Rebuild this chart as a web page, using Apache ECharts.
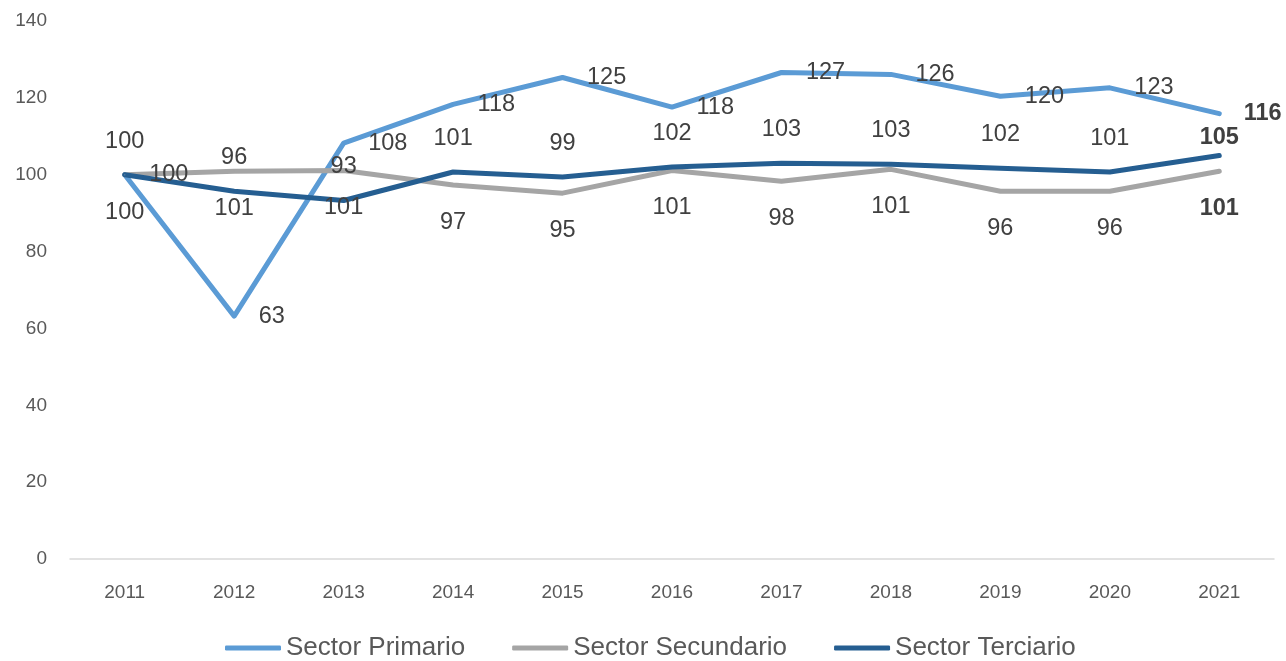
<!DOCTYPE html>
<html>
<head>
<meta charset="utf-8">
<script src="https://cdn.jsdelivr.net/npm/echarts@6/dist/echarts.min.js"></script>
<style>
  html, body { margin: 0; padding: 0; background: #fff; }
  #chart { width: 1286px; height: 661px; }
</style>
</head>
<body>
<div id="chart"></div>
<script>
// años del eje x
const years = ['2011', '2012', '2013', '2014', '2015', '2016', '2017', '2018', '2019', '2020', '2021'];
// índices por sector (2011 = 100)
const primario = [100, 63.2, 108.2, 118.3, 125.3, 117.6, 126.6, 126.1, 120.4, 122.6, 115.9];
const secundario = [100, 100.9, 101.1, 97.3, 95.2, 101.1, 98.3, 101.4, 95.7, 95.7, 100.9];
const terciario = [100, 95.7, 93.3, 100.7, 99.4, 102.0, 103.0, 102.7, 101.7, 100.7, 105.0];
const yTicks = [0, 20, 40, 60, 80, 100, 120, 140];

const FONT = 'Liberation Sans, Arial, sans-serif';
const labelColor = '#404040';

// el último punto de cada serie lleva etiqueta en negrita
function withBoldLast(values, lastLabel) {
    return values.map((v, i) => {
        if (i === values.length - 1) {
            return { value: v, label: Object.assign({ fontWeight: 'bold' }, lastLabel || {}) };
        }
        return v;
    });
}

function makeSeries(name, color, values, label, lastLabel) {
    return {
        name: name,
        type: 'line',
        data: withBoldLast(values, lastLabel),
        symbol: 'circle',
        symbolSize: 1,
        itemStyle: { color: color },
        lineStyle: { color: color, width: 5, cap: 'round', join: 'round' },
        label: Object.assign({
            show: true,
            color: labelColor,
            fontSize: 23.5,
            fontFamily: FONT,
            formatter: p => Math.round(p.value)
        }, label),
        emphasis: { disabled: true }
    };
}

let myChart = echarts.init(document.getElementById('chart'));
let option = {
    animation: false,
    grid: { left: 70, right: 12, top: 21, bottom: 102 },
    legend: {
        left: 225,
        bottom: 0,
        padding: 0,
        itemWidth: 56,
        itemHeight: 5,
        itemGap: 47,
        icon: 'roundRect',
        textStyle: { fontSize: 26, color: '#595959', fontFamily: FONT },
        data: ['Sector Primario', 'Sector Secundario', 'Sector Terciario']
    },
    xAxis: {
        type: 'category',
        data: years,
        boundaryGap: true,
        axisLine: { lineStyle: { color: '#D9D9D9', width: 1.5 } },
        axisTick: { show: false },
        axisLabel: { color: '#595959', fontSize: 19, fontFamily: FONT, margin: 24 }
    },
    yAxis: {
        type: 'value',
        min: yTicks[0],
        max: yTicks[yTicks.length - 1],
        interval: 20,
        axisLine: { show: false },
        axisTick: { show: false },
        splitLine: { show: false },
        axisLabel: { color: '#595959', fontSize: 19, fontFamily: FONT, margin: 23 }
    },
    series: [
        makeSeries('Sector Primario', '#5B9BD5', primario, { position: 'right', distance: 24 }),
        makeSeries('Sector Secundario', '#A5A5A5', secundario, { position: 'bottom', distance: 25 }),
        makeSeries('Sector Terciario', '#255E91', terciario, { position: 'top', distance: 21 }, { distance: 5 })
    ]
};
myChart.setOption(option);
</script>
</body>
</html>
